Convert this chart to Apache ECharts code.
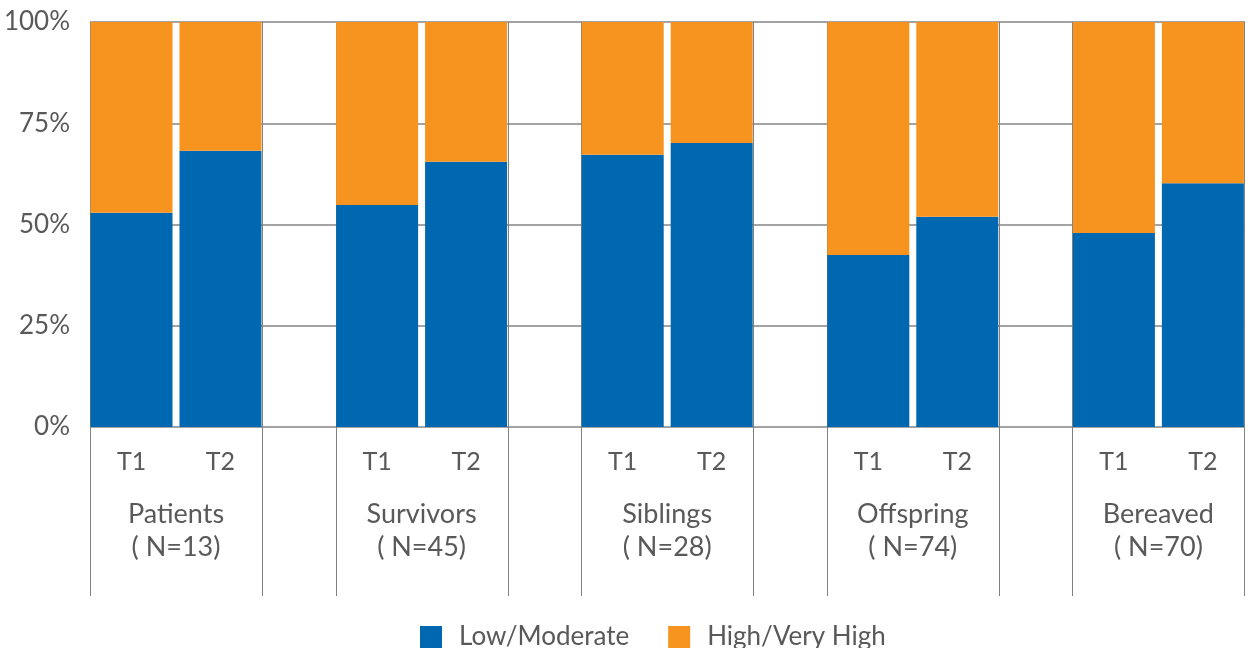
<!DOCTYPE html>
<html>
<head>
<meta charset="utf-8">
<script src="https://cdn.jsdelivr.net/npm/echarts@6/dist/echarts.min.js"></script>
<style>
html,body{margin:0;padding:0;background:#fff;}
#chart{width:1252px;height:648px;}
</style>
</head>
<body>
<div id="chart"></div>
<script>
// ---- data ----
var groups = ['Patients', 'Survivors', 'Siblings', 'Offspring', 'Bereaved'];
var groupN = ['( N=13)', '( N=45)', '( N=28)', '( N=74)', '( N=70)'];
var timeLabels = ['T1', 'T2'];
var lowT1 = [52.9, 54.8, 67.2, 42.5, 47.9];
var highT1 = [47.1, 45.2, 32.8, 57.5, 52.1];
var lowT2 = [68.2, 65.5, 70.1, 51.9, 60.2];
var highT2 = [31.8, 34.5, 29.9, 48.1, 39.8];
var yTicks = [0, 25, 50, 75, 100];
var seriesNames = ['Low/Moderate', 'High/Very High'];

// ---- style ----
var BLUE = '#0068B0';
var ORANGE = '#F7941F';
var TEXT = '#595959';
var FONT = 'Lato, "Noto Sans", sans-serif';
var BAR_W = 82;
var BAR_GAP = 7;

var chart = echarts.init(document.getElementById('chart'), null, {renderer: 'canvas'});

function barSeries(name, stack, data, color, tLabel) {
  var s = {
    name: name, type: 'bar', stack: stack, data: data,
    xAxisIndex: 1, yAxisIndex: 1,
    barWidth: BAR_W, barGap: (BAR_GAP / BAR_W * 100).toFixed(1) + '%',
    itemStyle: {color: color},
    emphasis: {disabled: true},
    z: 3
  };
  if (tLabel) {
    s.label = {
      show: true, position: 'bottom', distance: 22,
      formatter: tLabel, color: TEXT, fontSize: 25, fontFamily: FONT
    };
  }
  return s;
}

var option = {
  animation: false,
  backgroundColor: '#fff',
  textStyle: {fontFamily: FONT},
  legend: {
    data: seriesNames,
    left: 420, top: 624, padding: 0,
    itemWidth: 22, itemHeight: 22, itemGap: 39,
    icon: 'rect',
    textStyle: {color: TEXT, fontSize: 26, fontFamily: FONT, padding: [0, 0, 0, 12]}
  },
  grid: [
    {left: 90, top: 22, width: 1155, height: 405, outerBoundsMode: 'none'},
    {left: 53.2, top: 22, width: 1228, height: 405, outerBoundsMode: 'none'}
  ],
  xAxis: [
    {type: 'value', gridIndex: 0, show: false, min: 0, max: 1},
    {
      type: 'category', gridIndex: 1, data: groups,
      axisLine: {show: false}, axisTick: {show: false},
      axisLabel: {
        margin: 71, color: TEXT, fontSize: 27, fontFamily: FONT, lineHeight: 33,
        formatter: function (v, i) { return v + '\n' + groupN[i]; }
      }
    }
  ],
  yAxis: [
    {
      type: 'value', gridIndex: 0, min: 0, max: 100, interval: 25,
      axisLine: {show: false}, axisTick: {show: false},
      splitLine: {lineStyle: {color: '#858585', width: 1.5}},
      axisLabel: {
        margin: 20, color: TEXT, fontSize: 26, fontFamily: FONT,
        formatter: function (v) { return yTicks.indexOf(v) >= 0 ? v + '%' : ''; }
      }
    },
    {type: 'value', gridIndex: 1, min: 0, max: 100, show: false}
  ],
  series: [
    {
      type: 'custom', xAxisIndex: 1, yAxisIndex: 1, z: 1,
      silent: true,
      data: groups.map(function (g, i) { return [i, 0]; }),
      encode: {x: 0, y: 1},
      renderItem: function (params, api) {
        var base = api.coord([api.value(0), 0]);
        var top = api.coord([api.value(0), 100]);
        var half = BAR_W + BAR_GAP / 2;
        var y1 = top[1], y2 = base[1] + 169;
        var xs = [base[0] - half - 0.5, base[0] + half + 0.5];
        return {
          type: 'group',
          children: xs.map(function (x) {
            return {
              type: 'line',
              shape: {x1: Math.round(x) + 0.5, y1: y1, x2: Math.round(x) + 0.5, y2: y2},
              style: {stroke: '#808080', lineWidth: 1}
            };
          })
        };
      }
    },
    barSeries(seriesNames[0], 't1', lowT1, BLUE, timeLabels[0]),
    barSeries(seriesNames[1], 't1', highT1, ORANGE, null),
    barSeries(seriesNames[0], 't2', lowT2, BLUE, timeLabels[1]),
    barSeries(seriesNames[1], 't2', highT2, ORANGE, null)
  ]
};
chart.setOption(option);
</script>
</body>
</html>
